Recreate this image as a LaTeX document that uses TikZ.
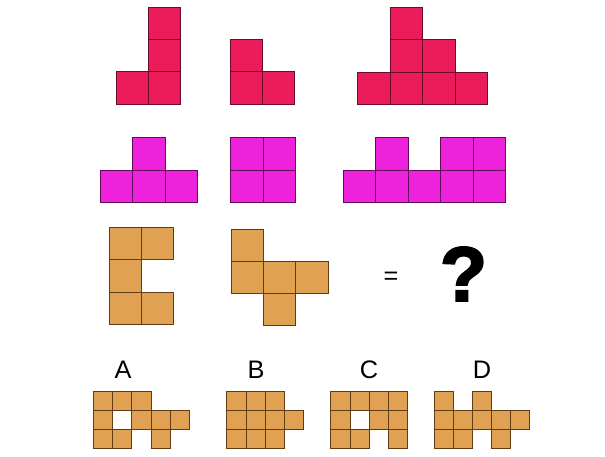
\documentclass[tikz,border=0pt]{standalone}
\usepackage{fontspec}
\setmainfont{Liberation Sans}
\newfontfamily\qfont[BoldFeatures={FakeBold=2.5}]{Liberation Sans}
\definecolor{redfill}{RGB}{236,28,90}
\definecolor{redline}{RGB}{110,10,45}
\definecolor{magfill}{RGB}{238,34,218}
\definecolor{magline}{RGB}{100,10,90}
\definecolor{tanfill}{RGB}{224,162,82}
\definecolor{tanline}{RGB}{95,60,20}
\tikzset{
  redsq/.style={fill=redfill,draw=redline,line width=0.6pt},
  magsq/.style={fill=magfill,draw=magline,line width=0.6pt},
  tansq/.style={fill=tanfill,draw=tanline,line width=0.6pt},
  lbl/.style={font=\fontsize{19}{19}\selectfont,inner sep=0pt},
}
% \piece{style}{x0}{y0}{size}{list of col/row}
\newcommand{\piece}[5]{%
  \foreach \c/\r in {#5}{%
    \draw[#1] ({#2+\c*#4},{#3+\r*#4}) rectangle ++(#4,#4);
  }%
}
\begin{document}
\begin{tikzpicture}[x=0.75pt,y=-0.75pt]
\useasboundingbox (0,0) rectangle (605,456);
% row 1
\piece{redsq}{116}{7}{32.4}{1/0,1/1,0/2,1/2}
\piece{redsq}{230}{7}{32.4}{0/1,0/2,1/2}
\piece{redsq}{357.5}{7}{32.5}{1/0,1/1,2/1,0/2,1/2,2/2,3/2}
% row 2
\piece{magsq}{100}{137.7}{32.5}{1/0,0/1,1/1,2/1}
\piece{magsq}{230.7}{137.7}{32.4}{0/0,1/0,0/1,1/1}
\piece{magsq}{343.3}{137.7}{32.5}{1/0,3/0,4/0,0/1,1/1,2/1,3/1,4/1}
% row 3
\piece{tansq}{109}{227.3}{32.4}{0/0,1/0,0/1,0/2,1/2}
\piece{tansq}{231.3}{229}{32.2}{0/0,0/1,1/1,2/1,1/2}
\node[font=\fontsize{19}{19}\selectfont,inner sep=0pt] (eq) at (391,278) {=};
\node[font=\qfont\bfseries\fontsize{58}{58}\selectfont,inner sep=0pt] (qm) at (463.5,274) {?};
% row 4
\node[lbl] (la) at (123,370) {A};
\node[lbl] (lb) at (256,370) {B};
\node[lbl] (lc) at (369,370) {C};
\node[lbl] (ld) at (482,370) {D};
\piece{tansq}{93.3}{391}{19.2}{0/0,1/0,2/0,0/1,2/1,3/1,4/1,0/2,1/2,3/2}
\piece{tansq}{226.7}{391}{19.2}{0/0,1/0,2/0,0/1,1/1,2/1,3/1,0/2,1/2,2/2}
\piece{tansq}{330.7}{391}{19.2}{0/0,1/0,2/0,3/0,0/1,2/1,3/1,0/2,1/2,3/2}
\piece{tansq}{434.3}{391}{19}{0/0,2/0,0/1,1/1,2/1,3/1,4/1,0/2,1/2,3/2}
\end{tikzpicture}
\end{document}
